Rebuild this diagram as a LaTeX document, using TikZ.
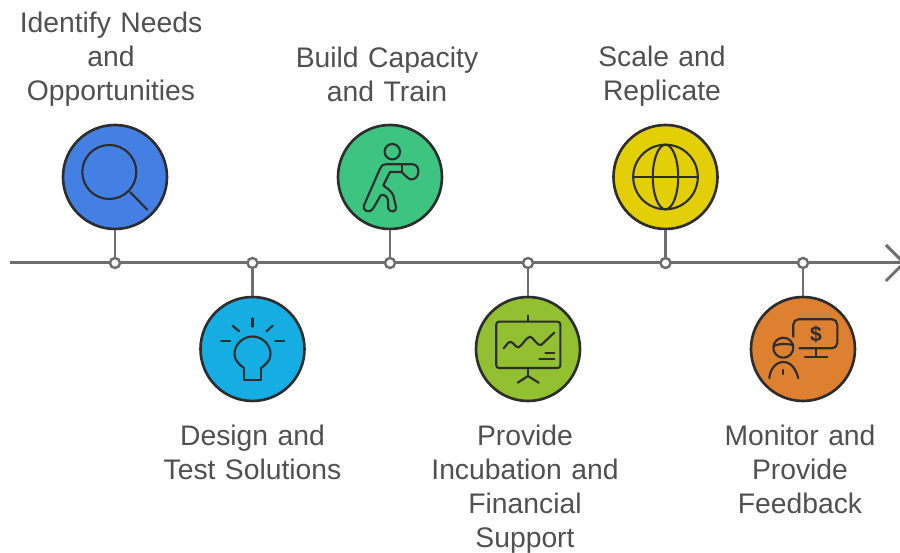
\documentclass[tikz,border=0pt]{standalone}
\usepackage{fontspec}
\setmainfont{Liberation Sans}
\usetikzlibrary{arrows.meta}
\definecolor{axisgray}{RGB}{110, 110, 110}
\definecolor{inkdark}{RGB}{45, 45, 45}
\definecolor{labelgray}{RGB}{80, 80, 80}
\definecolor{stepblue}{RGB}{68, 128, 228}
\definecolor{stepcyan}{RGB}{22, 174, 226}
\definecolor{stepgreen}{RGB}{60, 196, 128}
\definecolor{stepolive}{RGB}{146, 192, 48}
\definecolor{stepyellow}{RGB}{227, 207, 5}
\definecolor{steporange}{RGB}{221, 128, 48}
\tikzset{
  axisline/.style={draw=axisgray, line width=1.7pt},
  stepdot/.style={circle, draw=axisgray, fill=white, line width=1.4pt, inner sep=0pt, minimum size=0.2cm},
  stepcircle/.style={circle, draw=inkdark, line width=1.5pt, inner sep=0pt, minimum size=2.08cm},
  steplabel/.style={text=labelgray, font=\fontsize{16.1}{19.4}\selectfont, text width=4.4cm, align=center},
  iconline/.style={draw=inkdark, line width=1.2pt, line cap=round, line join=round, x=0.02cm, y=0.02cm}
}
\begin{document}
\begin{tikzpicture}
  \useasboundingbox (0, 0) rectangle (18, 11.06);
  \clip (0, 0) rectangle (18, 11.06);

  % Axis
  \coordinate (axisstart) at (0.2, 5.8);
  \coordinate (axisend) at (18.12, 5.8);
  \draw[axisline, -{Straight Barb[length=0.36cm, width=0.72cm]}] (axisstart) -- (axisend);

  % Steps
  \node[stepcircle, fill=stepblue] (search) at (2.3, 7.52) {};
  \node[stepcircle, fill=stepcyan] (bulb) at (5.05, 4.08) {};
  \node[stepcircle, fill=stepgreen] (runner) at (7.8, 7.52) {};
  \node[stepcircle, fill=stepolive] (chart) at (10.56, 4.08) {};
  \node[stepcircle, fill=stepyellow] (globe) at (13.31, 7.52) {};
  \node[stepcircle, fill=steporange] (monitor) at (16.06, 4.08) {};

  % Dots on the axis
  \node[stepdot] (dot1) at (2.3, 5.8) {};
  \node[stepdot] (dot2) at (5.05, 5.8) {};
  \node[stepdot] (dot3) at (7.8, 5.8) {};
  \node[stepdot] (dot4) at (10.56, 5.8) {};
  \node[stepdot] (dot5) at (13.31, 5.8) {};
  \node[stepdot] (dot6) at (16.06, 5.8) {};

  \draw[axisline] (search) -- (dot1);
  \draw[axisline] (bulb) -- (dot2);
  \draw[axisline] (runner) -- (dot3);
  \draw[axisline] (chart) -- (dot4);
  \draw[axisline] (globe) -- (dot5);
  \draw[axisline] (monitor) -- (dot6);

  % Labels
  \node[steplabel] (searchlabel) at (2.22, 9.87) {Identify Needs\\and\\Opportunities};
  \node[steplabel] (bulblabel) at (5.05, 2.02) {Design and\\Test Solutions};
  \node[steplabel] (runnerlabel) at (7.74, 9.58) {Build Capacity\\and Train};
  \node[steplabel] (chartlabel) at (10.5, 1.27) {Provide\\Incubation and\\Financial\\Support};
  \node[steplabel] (globelabel) at (13.24, 9.53) {Scale and\\Replicate};
  \node[steplabel] (monitorlabel) at (16, 1.68) {Monitor and\\Provide\\Feedback};

  % Icon: magnifier
  \begin{scope}[shift={(search)}, iconline]
    \draw (-5.7, 5) circle (27);
    \draw (15, -15) -- (32.3, -32.7);
  \end{scope}

  % Icon: bulb
  \begin{scope}[shift={(bulb)}, iconline]
    \draw (0, 30.7) -- (0, 22.3);
    \draw (-20, 23.3) -- (-13.3, 17.7);
    \draw (20.3, 23.3) -- (14, 17.7);
    \draw (-31.3, 8.3) -- (-22.3, 8.3);
    \draw (22.7, 8.3) -- (31.7, 8.3);
    \draw (-8.3, -19.3) -- (-8.3, -31) -- (8.3, -31) -- (8.3, -19.3);
    \draw (-8.3, -19.3) .. controls (-14, -15) and (-18, -11) .. (-18, -5) .. controls (-18, 5) and (-9, 12.5) .. (0, 12.5) .. controls (9, 12.5) and (18, 5) .. (18, -5) .. controls (18, -11) and (14, -15) .. (8.3, -19.3);
  \end{scope}

  % Icon: runner
  \begin{scope}[shift={(runner)}, iconline]
    \draw (2.3, 25.3) circle (7.7);
    \draw (22.3, 12.7) -- (-3.3, 12.7) .. controls (-7, 12.7) and (-9, 11) .. (-10, 8.3) -- (-26, -28.3) .. controls (-28, -34) and (-20, -37) .. (-17, -31.7) -- (-9.3, -18.3) .. controls (-6, -17) and (-3, -19) .. (-2, -23) -- (-1.7, -31.7) .. controls (0, -36) and (7, -35) .. (6, -30) -- (3.3, -18.3) .. controls (1, -13) and (-4, -11) .. (-6.7, -8.3) -- (0, 5) -- (11.7, 5);
    \draw (11.7, 12.7) -- (11.7, 5);
    \draw (22.3, 12.7) .. controls (30, 13) and (31, -1) .. (22, -2.5) .. controls (18, -2.5) and (15, 2) .. (11.7, 5);
  \end{scope}

  % Icon: chart
  \begin{scope}[shift={(chart)}, iconline]
    \draw[rounded corners=1.5pt] (-31.7, 27.3) rectangle (32.3, -19);
    \draw (0, 33.3) -- (0, 27.3);
    \draw (0, -19) -- (0, -27);
    \draw (-10.3, -33.7) -- (0, -27) -- (10.7, -33.7);
    \draw (-24.3, 0.7) .. controls (-20, 6) and (-19, 7.3) .. (-17.7, 7.3) .. controls (-15, 7) and (-12, 1) .. (-9.3, 1.7) .. controls (-6, 3) and (-2, 12) .. (2.3, 12.3) .. controls (5, 12) and (9, 3) .. (13, 4) .. controls (16, 6) and (21, 12) .. (26.3, 16.3);
    \draw (17.3, -4.3) -- (26.3, -4.3);
    \draw (11.3, -10) -- (26.3, -10);
  \end{scope}

  % Icon: globe
  \begin{scope}[shift={(globe)}, iconline]
    \draw (0, 0) circle (32.3);
    \draw (0, 0) ellipse (12.7 and 32.3);
    \draw (-32.3, 0) -- (32.3, 0);
  \end{scope}

  % Icon: presenter
  \begin{scope}[shift={(monitor)}, iconline]
    \draw[rounded corners=3pt] (-9.7, 12.3) -- (-9.7, 29.7) -- (34.3, 29.7) -- (34.3, 0.7) -- (-3.7, 0.7);
    \draw (13, 0.7) -- (13, -7.7);
    \draw (2, -7.7) -- (24.3, -7.7);
    \node[text=inkdark, inner sep=0pt, font=\bfseries\fontsize{12}{12}\selectfont] (dollar) at (13, 15) {\$};
    \draw (-19.7, 1.3) circle (10);
    \draw (-29, 3) .. controls (-24, 5.5) and (-18, 5.5) .. (-9.7, 4);
    \draw (-33.7, -29.3) .. controls (-33, -20) and (-27, -13) .. (-19.7, -13) .. controls (-12, -13) and (-7, -20) .. (-4.7, -29.3);
    \draw (-19.7, -21) -- (-19.7, -25);
  \end{scope}
\end{tikzpicture}
\end{document}
